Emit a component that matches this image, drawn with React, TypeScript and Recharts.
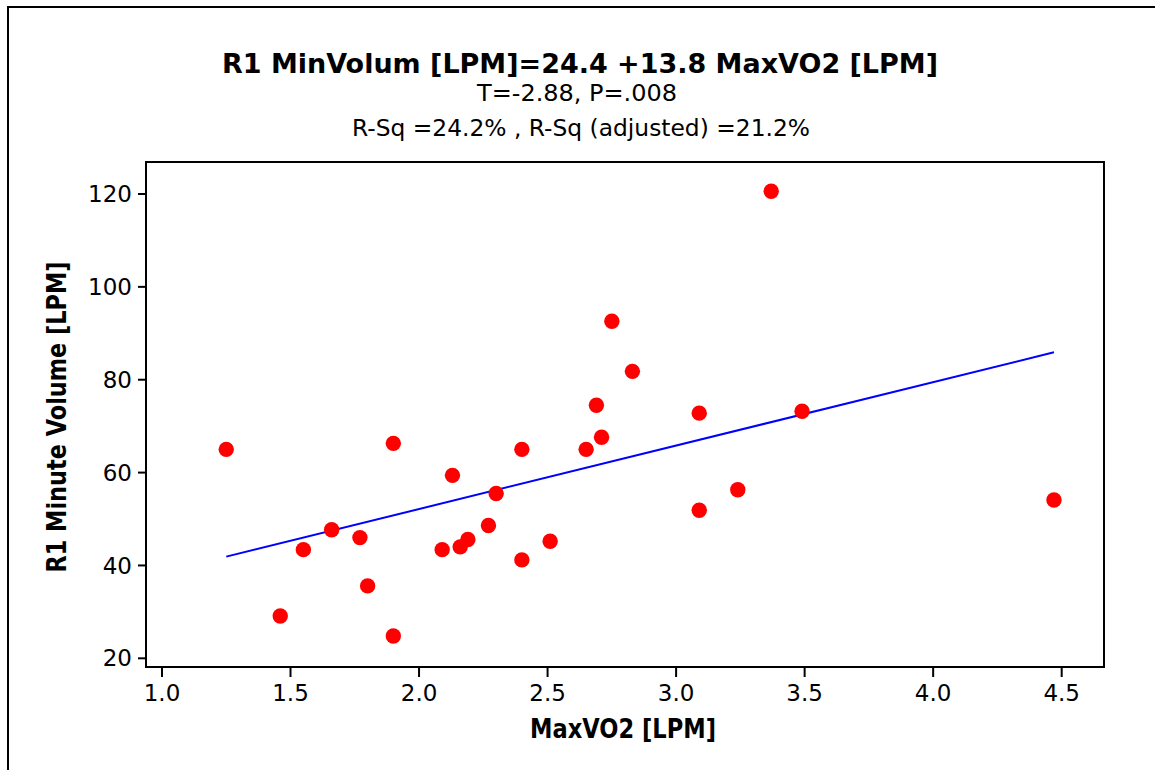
import { ScatterChart, Scatter, XAxis, YAxis, ReferenceArea } from "recharts";

// MaxVO2 [LPM] vs R1 minute volume [LPM]
const maxVO2 = [1.25, 1.46, 1.55, 1.66, 1.77, 1.8, 1.9, 1.9, 2.09, 2.13, 2.16, 2.19, 2.27, 2.3, 2.4, 2.4, 2.51, 2.65, 2.69, 2.71, 2.75, 2.83, 3.09, 3.09, 3.24, 3.37, 3.49, 4.47];
const minVolume = [65, 29.1, 43.4, 47.7, 46.0, 35.6, 66.3, 24.8, 43.4, 59.4, 44.0, 45.6, 48.6, 55.5, 65, 41.2, 45.2, 65, 74.5, 67.6, 92.6, 81.8, 72.8, 51.9, 56.3, 120.6, 73.2, 54.1];

// fitted line end points (x range of the data)
const fitX = [1.25, 4.47];
const fitY = [41.9, 85.9];

const xTicks = [1.0, 1.5, 2.0, 2.5, 3.0, 3.5, 4.0, 4.5];
const yTicks = [20, 40, 60, 80, 100, 120];

const TITLE = "R1 MinVolum [LPM]=24.4 +13.8 MaxVO2 [LPM]";
const SUB1 = "T=-2.88, P=.008";
const SUB2 = "R-Sq =24.2% , R-Sq (adjusted) =21.2%";
const X_LABEL = "MaxVO2 [LPM]";
const Y_LABEL = "R1 Minute Volume [LPM]";

const FONT = "'DejaVu Sans', Verdana, sans-serif";

const points = maxVO2.map((x, i) => ({ x, y: minVolume[i] }));
const fit = fitX.map((x, i) => ({ x, y: fitY[i] }));

const X_DOMAIN: [number, number] = [0.9378, 4.6646];
const Y_DOMAIN: [number, number] = [18.13, 126.89];

const RedDot = (props: any) => <circle cx={props.cx} cy={props.cy} r={7.7} fill="#ff0000" />;
const NoDot = () => <g />;

export default function App() {
  return (
    <div style={{ position: "absolute", left: 0, top: 0, width: 1155, height: 770, background: "#fff", fontFamily: FONT }}>
      <div
        style={{
          position: "absolute", left: 7, top: 6, width: 1148, height: 764, boxSizing: "border-box",
          borderTop: "2px solid #000", borderLeft: "2px solid #000",
        }}
      />
      <div style={{ position: "absolute", left: 0, top: 0 }}>
        <ScatterChart width={1155} height={770} margin={{ top: 162, right: 51, bottom: 63, left: 66 }} style={{ fontFamily: FONT }}>
          <XAxis
            type="number" dataKey="x" domain={X_DOMAIN} ticks={xTicks} allowDataOverflow height={40}
            tickFormatter={(v: number) => v.toFixed(1)}
            axisLine={{ stroke: "#000", strokeWidth: 2 }}
            tickLine={{ stroke: "#000", strokeWidth: 2 }}
            tickSize={10} tickMargin={8}
            tick={{ fontSize: 23, fill: "#000", fontFamily: FONT }}
          />
          <YAxis
            type="number" dataKey="y" domain={Y_DOMAIN} ticks={yTicks} allowDataOverflow width={80}
            axisLine={{ stroke: "#000", strokeWidth: 2 }}
            tickLine={{ stroke: "#000", strokeWidth: 2 }}
            tickSize={8} tickMargin={6}
            tick={{ fontSize: 23, fill: "#000", fontFamily: FONT }}
          />
          <ReferenceArea x1={X_DOMAIN[0]} x2={X_DOMAIN[1]} y1={Y_DOMAIN[0]} y2={Y_DOMAIN[1]} fill="none" stroke="#000" strokeWidth={2} ifOverflow="visible" />
          <Scatter data={fit} line={{ stroke: "#0000ff", strokeWidth: 2 }} shape={NoDot} isAnimationActive={false} />
          <Scatter data={points} shape={RedDot} isAnimationActive={false} />
        </ScatterChart>
      </div>
      <svg width={1155} height={770} style={{ position: "absolute", left: 0, top: 0, pointerEvents: "none" }}>
        <text x={580} y={73} textAnchor="middle" fontSize={27} fontWeight="bold" fontFamily={FONT} textLength={716} lengthAdjust="spacingAndGlyphs">{TITLE}</text>
        <text x={577} y={101} textAnchor="middle" fontSize={23} fontFamily={FONT} textLength={200} lengthAdjust="spacingAndGlyphs">{SUB1}</text>
        <text x={581} y={136} textAnchor="middle" fontSize={23} fontFamily={FONT} textLength={458} lengthAdjust="spacingAndGlyphs">{SUB2}</text>
        <text x={623} y={738} textAnchor="middle" fontSize={26} fontWeight="bold" fontFamily={FONT} textLength={186} lengthAdjust="spacingAndGlyphs">{X_LABEL}</text>
        <text x={0} y={0} transform="translate(65.5,417) rotate(-90)" textAnchor="middle" fontSize={26} fontWeight="bold" fontFamily={FONT} textLength={311} lengthAdjust="spacingAndGlyphs">{Y_LABEL}</text>
      </svg>
    </div>
  );
}
